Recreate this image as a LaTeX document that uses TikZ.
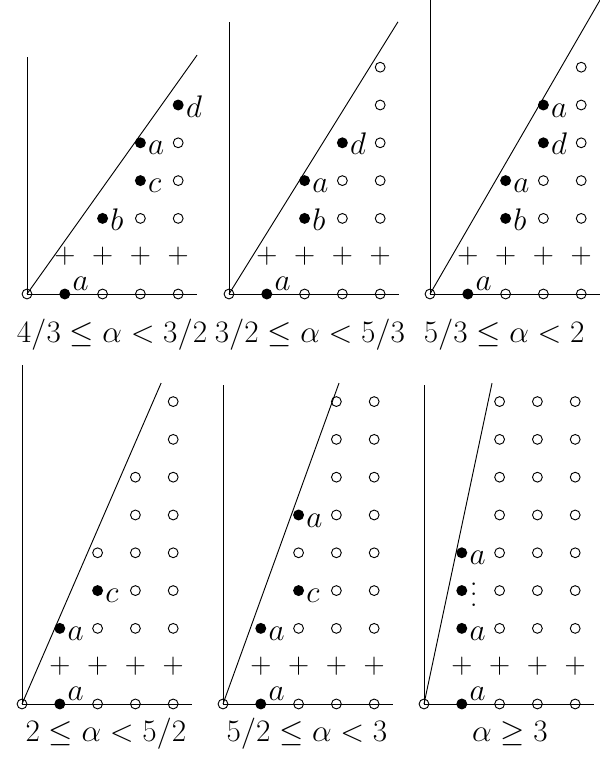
\RequirePackage{fix-cm}
\documentclass[tikz,border=0pt]{standalone}
\usepackage{amsmath}
\usepackage{tikz}
\usetikzlibrary{positioning}

\begin{document}
\begin{tikzpicture}[
    font=\fontsize{23.5}{28}\selectfont,
    axis/.style={line width=0.7pt, black},
    filled/.style={circle, fill=black, inner sep=0pt, minimum size=0.29cm},
    hollow/.style={circle, draw=black, line width=0.7pt, inner sep=0pt, minimum size=0.26cm},
    plusmark/.style={inner sep=0pt, font=\fontsize{22}{26}\selectfont},
    lab/.style={anchor=base west, inner sep=0pt, xshift=0.2cm, yshift=-0.32cm},
    labup/.style={anchor=base west, inner sep=0pt, xshift=0.2cm, yshift=0.08cm},
    caption/.style={anchor=base, inner sep=0pt}
]

\useasboundingbox (0,0) rectangle (15.873,-20.212);

% ── Panel origins ──
\coordinate (p1) at (0.714,-7.778);
\coordinate (p2) at (6.058,-7.778);
\coordinate (p3) at (11.376,-7.778);
\coordinate (p4) at (0.582,-18.624);
\coordinate (p5) at (5.899,-18.624);
\coordinate (p6) at (11.217,-18.624);

% ── Axes, slope line and the two bottom rows (same in every panel) ──
\foreach \p/\ytop/\lx/\ly in {1/6.27/4.5/6.32, 2/7.20/4.47/7.20, 3/7.78/4.5/7.78,
                              4/8.97/3.68/8.49, 5/8.44/3.07/8.49, 6/8.44/1.80/8.49}{
  \begin{scope}[shift={(p\p)}]
    \node[hollow] (p\p-o) at (0,0) {};
    \coordinate (p\p-xend) at (4.5,0);
    \coordinate (p\p-yend) at (0,\ytop);
    \coordinate (p\p-lend) at (\lx,\ly);
    \draw[axis] (p\p-o.center) -- (p\p-xend);
    \draw[axis] (p\p-o.center) -- (p\p-yend);
    \draw[axis] (p\p-o.center) -- (p\p-lend);
    \node[filled] (p\p-a0) at (1,0) {};
    \node[labup] (p\p-a0-t) at (p\p-a0.center) {$a$};
    \foreach \c in {2,3,4} \node[hollow] (p\p-h\c-0) at (\c,0) {};
    \foreach \c in {1,...,4} \node[plusmark] (p\p-plus\c) at (\c,1) {$+$};
  \end{scope}
}

% ── Panel 1: 4/3 <= alpha < 3/2 ──
\begin{scope}[shift={(p1)}]
  \node[filled] (p1-b) at (2,2) {};
  \node[lab] (p1-b-t) at (p1-b.center) {$b$};
  \node[filled] (p1-c) at (3,3) {};
  \node[lab] (p1-c-t) at (p1-c.center) {$c$};
  \node[filled] (p1-a) at (3,4) {};
  \node[lab] (p1-a-t) at (p1-a.center) {$a$};
  \node[filled] (p1-d) at (4,5) {};
  \node[lab] (p1-d-t) at (p1-d.center) {$d$};
  \foreach \c/\r in {3/2, 4/2, 4/3, 4/4}
    \node[hollow] (p1-h\c-\r) at (\c,\r) {};
  \node[caption] (p1-cap) at (2.25,-1.296) {$4/3 \le \alpha < 3/2$};
\end{scope}

% ── Panel 2: 3/2 <= alpha < 5/3 ──
\begin{scope}[shift={(p2)}]
  \node[filled] (p2-b) at (2,2) {};
  \node[lab] (p2-b-t) at (p2-b.center) {$b$};
  \node[filled] (p2-a) at (2,3) {};
  \node[lab] (p2-a-t) at (p2-a.center) {$a$};
  \node[filled] (p2-d) at (3,4) {};
  \node[lab] (p2-d-t) at (p2-d.center) {$d$};
  \foreach \c/\r in {3/2, 4/2, 3/3, 4/3, 4/4, 4/5, 4/6}
    \node[hollow] (p2-h\c-\r) at (\c,\r) {};
  \node[caption] (p2-cap) at (2.14,-1.296) {$3/2 \le \alpha < 5/3$};
\end{scope}

% ── Panel 3: 5/3 <= alpha < 2 ──
\begin{scope}[shift={(p3)}]
  \node[filled] (p3-b) at (2,2) {};
  \node[lab] (p3-b-t) at (p3-b.center) {$b$};
  \node[filled] (p3-a) at (2,3) {};
  \node[lab] (p3-a-t) at (p3-a.center) {$a$};
  \node[filled] (p3-d) at (3,4) {};
  \node[lab] (p3-d-t) at (p3-d.center) {$d$};
  \node[filled] (p3-a2) at (3,5) {};
  \node[lab] (p3-a2-t) at (p3-a2.center) {$a$};
  \foreach \c/\r in {3/2, 4/2, 3/3, 4/3, 4/4, 4/5, 4/6}
    \node[hollow] (p3-h\c-\r) at (\c,\r) {};
  \node[caption] (p3-cap) at (1.96,-1.296) {$5/3 \le \alpha < 2$};
\end{scope}

% ── Panel 4: 2 <= alpha < 5/2 ──
\begin{scope}[shift={(p4)}]
  \node[filled] (p4-a) at (1,2) {};
  \node[lab] (p4-a-t) at (p4-a.center) {$a$};
  \node[filled] (p4-c) at (2,3) {};
  \node[lab] (p4-c-t) at (p4-c.center) {$c$};
  \foreach \c/\r in {2/2, 3/2, 4/2, 3/3, 4/3, 2/4, 3/4, 4/4,
                     3/5, 4/5, 3/6, 4/6, 4/7, 4/8}
    \node[hollow] (p4-h\c-\r) at (\c,\r) {};
  \node[caption] (p4-cap) at (2.22,-1.005) {$2 \le \alpha < 5/2$};
\end{scope}

% ── Panel 5: 5/2 <= alpha < 3 ──
\begin{scope}[shift={(p5)}]
  \node[filled] (p5-a) at (1,2) {};
  \node[lab] (p5-a-t) at (p5-a.center) {$a$};
  \node[filled] (p5-c) at (2,3) {};
  \node[lab] (p5-c-t) at (p5-c.center) {$c$};
  \node[filled] (p5-a2) at (2,5) {};
  \node[lab] (p5-a2-t) at (p5-a2.center) {$a$};
  \foreach \c/\r in {2/2, 3/2, 4/2, 3/3, 4/3, 2/4, 3/4, 4/4,
                     3/5, 4/5, 3/6, 4/6, 3/7, 4/7, 3/8, 4/8}
    \node[hollow] (p5-h\c-\r) at (\c,\r) {};
  \node[caption] (p5-cap) at (2.22,-1.005) {$5/2 \le \alpha < 3$};
\end{scope}

% ── Panel 6: alpha >= 3 ──
\begin{scope}[shift={(p6)}]
  \node[filled] (p6-a) at (1,2) {};
  \node[lab] (p6-a-t) at (p6-a.center) {$a$};
  \node[filled] (p6-m) at (1,3) {};
  \node[inner sep=0pt, xshift=0.32cm, yshift=-0.1cm] (p6-m-t) at (p6-m.center)
    {\vbox{\baselineskip=0.28cm\hbox{.}\hbox{.}\hbox{.}}};
  \node[filled] (p6-a2) at (1,4) {};
  \node[lab] (p6-a2-t) at (p6-a2.center) {$a$};
  \foreach \r in {2,...,8}
    \foreach \c in {2,3,4}
      \node[hollow] (p6-h\c-\r) at (\c,\r) {};
  \node[caption] (p6-cap) at (2.27,-1.005) {$\alpha \ge 3$};
\end{scope}

\end{tikzpicture}
\end{document}
